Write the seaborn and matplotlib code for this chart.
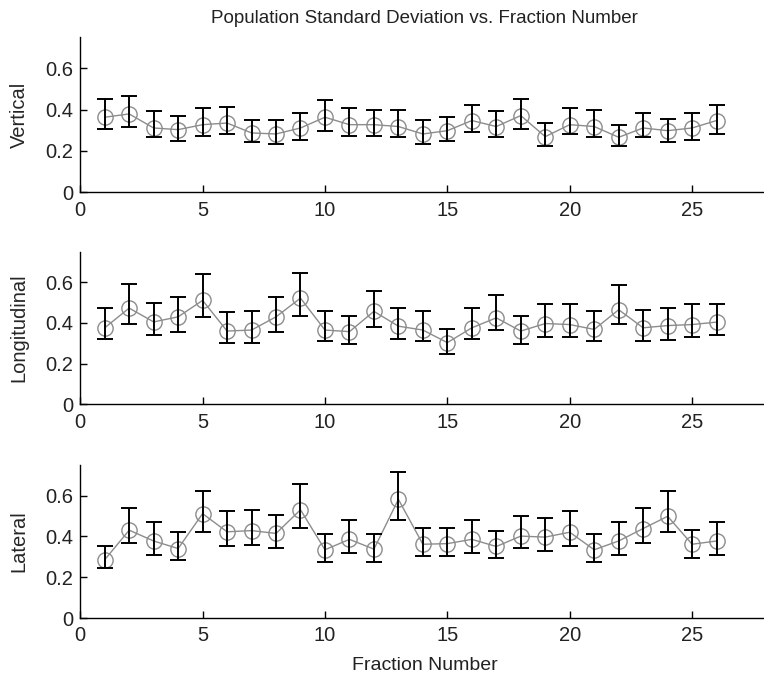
import numpy as np
import pandas as pd
import matplotlib
matplotlib.use("Agg")
import matplotlib.pyplot as plt
import seaborn as sns

fractions = list(range(1, 27))

vertical_mean = [0.363, 0.379, 0.311, 0.303, 0.327, 0.335, 0.287, 0.282, 0.311, 0.363,
                 0.327, 0.327, 0.318, 0.282, 0.298, 0.347, 0.318, 0.371, 0.269, 0.327,
                 0.318, 0.266, 0.311, 0.298, 0.311, 0.347]
vertical_hi = [0.452, 0.468, 0.392, 0.368, 0.406, 0.411, 0.352, 0.350, 0.384, 0.444,
               0.406, 0.398, 0.398, 0.352, 0.366, 0.424, 0.392, 0.452, 0.334, 0.406,
               0.398, 0.327, 0.382, 0.356, 0.382, 0.423]
vertical_lo = [0.306, 0.315, 0.266, 0.250, 0.274, 0.282, 0.242, 0.234, 0.253, 0.298,
               0.274, 0.274, 0.266, 0.234, 0.250, 0.290, 0.266, 0.306, 0.226, 0.282,
               0.269, 0.226, 0.266, 0.242, 0.253, 0.282]

longitudinal_mean = [0.376, 0.473, 0.405, 0.430, 0.511, 0.360, 0.365, 0.430, 0.522, 0.365,
                     0.357, 0.457, 0.384, 0.365, 0.303, 0.376, 0.425, 0.360, 0.397, 0.392,
                     0.368, 0.465, 0.376, 0.387, 0.392, 0.404]
longitudinal_hi = [0.473, 0.592, 0.498, 0.530, 0.639, 0.452, 0.460, 0.530, 0.647, 0.457,
                   0.436, 0.559, 0.473, 0.457, 0.371, 0.473, 0.538, 0.436, 0.493, 0.493,
                   0.457, 0.587, 0.465, 0.473, 0.493, 0.493]
longitudinal_lo = [0.319, 0.397, 0.341, 0.357, 0.428, 0.303, 0.303, 0.357, 0.436, 0.311,
                   0.295, 0.381, 0.319, 0.311, 0.246, 0.319, 0.363, 0.295, 0.331, 0.331,
                   0.311, 0.396, 0.311, 0.316, 0.331, 0.341]

lateral_mean = [0.286, 0.431, 0.378, 0.341, 0.512, 0.423, 0.429, 0.415, 0.531, 0.335,
                0.386, 0.338, 0.582, 0.362, 0.365, 0.386, 0.351, 0.402, 0.397, 0.421,
                0.335, 0.378, 0.439, 0.499, 0.362, 0.378]
lateral_hi = [0.351, 0.539, 0.470, 0.421, 0.622, 0.523, 0.528, 0.507, 0.656, 0.413,
              0.483, 0.413, 0.716, 0.442, 0.442, 0.483, 0.429, 0.499, 0.491, 0.523,
              0.413, 0.470, 0.539, 0.622, 0.434, 0.470]
lateral_lo = [0.244, 0.367, 0.310, 0.286, 0.421, 0.351, 0.359, 0.343, 0.442, 0.273,
              0.318, 0.273, 0.483, 0.302, 0.302, 0.318, 0.294, 0.343, 0.327, 0.351,
              0.273, 0.310, 0.367, 0.421, 0.294, 0.310]

panel_names = ["Vertical", "Longitudinal", "Lateral"]
x_ticks = [0, 5, 10, 15, 20, 25]
y_ticks = [0, 0.2, 0.4, 0.6]
y_tick_labels = ["0", "0.2", "0.4", "0.6"]
title = "Population Standard Deviation vs. Fraction Number"
x_label = "Fraction Number"

sns.set_theme(style="white")
plt.rcParams["font.family"] = ["Liberation Sans", "DejaVu Sans"]

fig = plt.figure(figsize=(7.64, 6.77), dpi=100)
positions = [
    [0.105, 0.716, 0.897, 0.229],
    [0.105, 0.403, 0.897, 0.225],
    [0.105, 0.087, 0.897, 0.226],
]

series = [
    (vertical_mean, vertical_lo, vertical_hi),
    (longitudinal_mean, longitudinal_lo, longitudinal_hi),
    (lateral_mean, lateral_lo, lateral_hi),
]

for pos, name, (m, lo, hi) in zip(positions, panel_names, series):
    ax = fig.add_axes(pos)
    df = pd.DataFrame({"fraction": fractions, "value": m})
    sns.lineplot(data=df, x="fraction", y="value", ax=ax, color="#8c8c8c",
                 linewidth=1.0, marker="o", markersize=11,
                 markerfacecolor="none", markeredgecolor="#8c8c8c",
                 markeredgewidth=1.0, zorder=2)
    m_arr = np.array(m)
    yerr = [m_arr - np.array(lo), np.array(hi) - m_arr]
    ax.errorbar(fractions, m_arr, yerr=yerr, fmt="none", ecolor="black",
                elinewidth=1.4, capsize=5.5, capthick=1.4, zorder=3)
    ax.set_xlim(0, 28)
    ax.set_ylim(0, 0.75)
    ax.set_xticks(x_ticks)
    ax.set_xticklabels([str(t) for t in x_ticks])
    ax.set_yticks(y_ticks)
    ax.set_yticklabels(y_tick_labels)
    ax.set_ylabel(name, fontsize=14.5, labelpad=12)
    ax.set_xlabel("")
    sns.despine(ax=ax, top=True, right=True)
    for s in ["left", "bottom"]:
        ax.spines[s].set_color("black")
        ax.spines[s].set_linewidth(1.0)
    ax.tick_params(axis="both", direction="in", length=5, width=1.0,
                   colors="black", labelsize=14.5, left=True, bottom=True)
    ax.tick_params(axis="x", pad=6)
    ax.tick_params(axis="y", pad=5)
    for lbl in ax.get_xticklabels() + ax.get_yticklabels():
        lbl.set_color("#222222")

fig.text(0.556, 0.985, title, ha="center", va="top", fontsize=13.5, color="#222222")
fig.text(0.556, 0.005, x_label, ha="center", va="bottom", fontsize=14, color="#222222")

fig.savefig("out.png", dpi=100)
